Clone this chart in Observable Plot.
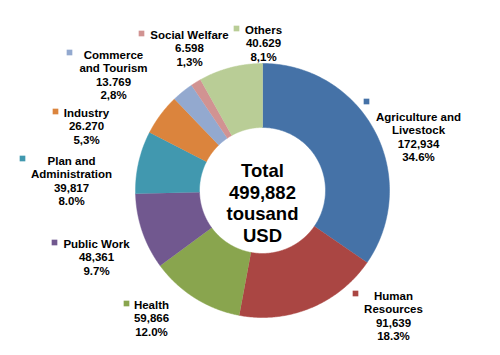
<!DOCTYPE html>
<html>
<head>
<meta charset="utf-8">
<script src="https://cdn.jsdelivr.net/npm/d3@7"></script>
<script src="https://cdn.jsdelivr.net/npm/@observablehq/plot@0.6"></script>
<style>
  html, body { margin: 0; padding: 0; background: #fff; }
  #chart svg { display: block; }
</style>
</head>
<body>
<div id="chart"></div>
<script>
// ---- data ----
const categories = ["Agriculture and\nLivestock", "Human\nResources", "Health", "Public Work",
  "Plan and\nAdministration", "Industry", "Commerce\nand Tourism", "Social Welfare", "Others"];
const values = [172934, 91639, 59866, 48361, 39817, 26270, 13769, 6598, 40629];
const valueLabels = ["172,934", "91,639", "59,866", "48,361", "39,817", "26.270", "13.769", "6.598", "40.629"];
const pctLabels = ["34.6%", "18.3%", "12.0%", "9.7%", "8.0%", "5,3%", "2,8%", "1,3%", "8,1%"];
const colors = ["#4572A7", "#AA4643", "#89A54E", "#71588F", "#4198AF", "#DB843D", "#93A9CF", "#D19392", "#B9CD96"];
const centerLines = ["Total", "499,882", "tousand", "USD"];

// ---- layout (positions only) ----
const cx = 262, cy = 190, rOuter = 127, rInner = 63;
// label text center x, first-line baseline y, marker x, marker y
const labelLayout = [
  {tx: 418, ty: 119, mx: 366, my: 101},
  {tx: 393, ty: 298, mx: 355, my: 293},
  {tx: 151, ty: 307, mx: 126, my: 303},
  {tx: 96,  ty: 246, mx: 54,  my: 242},
  {tx: 71,  ty: 163, mx: 22,  my: 158},
  {tx: 86,  ty: 115, mx: 55,  my: 111},
  {tx: 113, ty: 57,  mx: 69,  my: 52},
  {tx: 189, ty: 37,  mx: 141, my: 33},
  {tx: 263, ty: 32,  mx: 236, my: 28}
];
const fontSize = 11.5, lineH = 13.4;

// ---- slices via d3.pie ----
const arcs = d3.pie().sort(null).value(d => d)(values);
const pts = [];
arcs.forEach((a, i) => {
  const n = 120;
  for (let k = 0; k <= n; k++) {
    const t = a.startAngle + (a.endAngle - a.startAngle) * k / n;
    pts.push({k: i, c: colors[i], x: cx + rOuter * Math.sin(t), y: cy - rOuter * Math.cos(t)});
  }
  for (let k = n; k >= 0; k--) {
    const t = a.startAngle + (a.endAngle - a.startAngle) * k / n;
    pts.push({k: i, c: colors[i], x: cx + rInner * Math.sin(t), y: cy - rInner * Math.cos(t)});
  }
});

const labels = categories.map((c, i) => ({
  text: c + "\n" + valueLabels[i] + "\n" + pctLabels[i],
  x: labelLayout[i].tx,
  y: labelLayout[i].ty - 0.71 * fontSize,
  mx: labelLayout[i].mx, my: labelLayout[i].my,
  c: colors[i]
}));

const font = "'Liberation Sans', Arial, sans-serif";
const centerFont = 18.5, centerLH = 21.5;
const centerData = [{text: centerLines.join("\n"), x: cx, y: 202}];

const chart = Plot.plot({
  width: 500, height: 355, margin: 0,
  style: {background: "#fff", fontFamily: font},
  x: {domain: [0, 500], range: [0, 500], axis: null},
  y: {domain: [0, 355], range: [0, 355], axis: null},
  color: {type: "identity"},
  marks: [
    Plot.line(pts, {x: "x", y: "y", z: "k", fill: "c", stroke: "c", strokeWidth: 0.5}),
    Plot.dot(labels, {x: "mx", y: "my", fill: "c", stroke: null, symbol: "square", r: 3.2}),
    Plot.text(labels, {x: "x", y: "y", text: "text", lineAnchor: "top", textAnchor: "middle",
      fontSize: fontSize, fontWeight: "bold", lineHeight: lineH / fontSize, fill: "#000"}),
    Plot.text(centerData, {x: "x", y: "y", text: "text", lineAnchor: "middle", textAnchor: "middle",
      fontSize: centerFont, fontWeight: "bold", lineHeight: centerLH / centerFont, fill: "#000"})
  ]
});
document.getElementById("chart").appendChild(chart);
</script>
</body>
</html>
